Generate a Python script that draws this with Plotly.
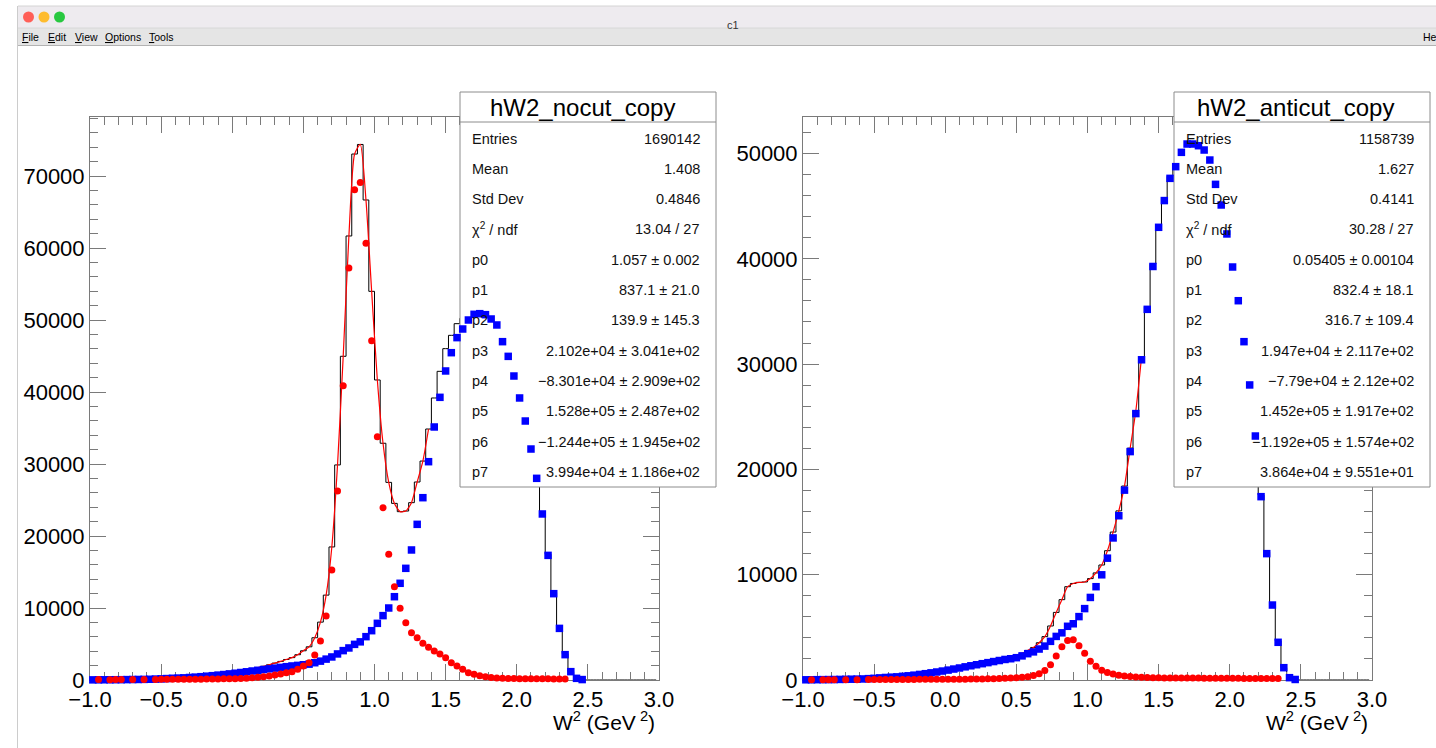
import plotly.graph_objects as go

W, H = 1436, 748
FONT = "Liberation Sans, Arial, Helvetica, sans-serif"
AX = "#7a7a7a"

# ---------------- binning ----------------
X_MIN, X_MAX, N_BINS = -1.0, 3.0, 100
FIT_MAX = 1.40
x_ticks_major, x_ticks_minor = 0.5, 0.1

# ---------------- hW2_nocut_copy ----------------
black_nocut = [20, 85, 30, 85, 110, 125, 55, 125, 75, 155,
               100, 210, 250, 290, 340, 370, 410, 460, 520, 580,
               660, 740, 830, 920, 1020, 1130, 1250, 1380, 1550, 1720,
               1910, 2110, 2350, 2580, 2850, 3110, 3510, 4060, 4610, 5870,
               8040, 11790, 18480, 29870, 44960, 61670, 73050, 74380, 66670, 53980,
               41670, 32880, 27450, 24530, 23380, 23470, 24630, 27500, 30410, 34860,
               39170, 42870, 46020, 47870, 49490, 50230, 51020, 51590, 51480, 51190,
               50490, 49600, 47240, 45170, 42420, 39360, 36150, 32250, 28180, 23220,
               17470, 12140, 7320, 3660, 1160, 230, 60, 0, 0, 0,
               0, 0, 0, 0, 0, 0, 0, 0, 0, 0]
blue_nocut = [20, 25, 30, 35, 40, 45, 55, 65, 75, 85,
              100, 130, 160, 200, 240, 270, 300, 350, 400, 460,
              530, 600, 680, 760, 850, 940, 1040, 1140, 1250, 1350,
              1450, 1550, 1650, 1750, 1850, 1950, 2030, 2120, 2200, 2400,
              2620, 2900, 3200, 3620, 4080, 4450, 4950, 5300, 6020, 6850,
              7870, 8940, 10000, 11570, 13430, 15510, 18060, 21620, 25320, 30320,
              35140, 39260, 42920, 45460, 47550, 48750, 50000, 50790, 50880, 50740,
              50140, 49310, 46990, 44950, 42220, 39170, 35970, 32080, 28010, 23060,
              17310, 11990, 7170, 3520, 1160, 230, 60, None, None, None,
              None, None, None, None, None, None, None, None, None, None]
red_nocut = [None, 60, None, 50, 70, 80, None, 60, None, 70,
             None, 80, 90, 90, 100, 100, 110, 110, 120, 120,
             130, 140, 150, 160, 170, 190, 210, 240, 300, 370,
             460, 560, 700, 830, 1000, 1160, 1480, 1940, 2410, 3470,
             5420, 8890, 15280, 26250, 40880, 57220, 68100, 69080, 60650, 47130,
             33800, 23940, 17450, 12960, 9950, 7960, 6570, 5880, 5090, 4540,
             4030, 3610, 3100, 2410, 1940, 1480, 1020, 800, 600, 450,
             350, 290, 250, 220, 200, 190, 180, 170, 170, 160,
             160, 150, 150, 140, None, None, None, None, None, None,
             None, None, None, None, None, None, None, None, None, None]

# ---------------- hW2_anticut_copy ----------------
black_anticut = [20, 55, 30, 55, 70, 75, 55, 95, 75, 115,
                 100, 170, 200, 240, 280, 320, 350, 400, 450, 510,
                 590, 660, 740, 820, 920, 1010, 1110, 1220, 1330, 1440,
                 1540, 1650, 1760, 1870, 1990, 2110, 2200, 2330, 2540, 2810,
                 3090, 3540, 4120, 5130, 6420, 7630, 8860, 9170, 9270, 9310,
                 9630, 10170, 10920, 12280, 14050, 16060, 18420, 22020, 25590, 30670,
                 35440, 39490, 43200, 45730, 47840, 48940, 50300, 51080, 51080, 50920,
                 50500, 49550, 47240, 45270, 42520, 39380, 36180, 32280, 28170, 23320,
                 17560, 12140, 7260, 3720, 1170, 220, 50, 0, 0, 0,
                 0, 0, 0, 0, 0, 0, 0, 0, 0, 0]
blue_anticut = [20, 25, 30, 35, 40, 45, 55, 65, 75, 85,
                100, 130, 160, 200, 240, 270, 300, 350, 400, 460,
                530, 600, 680, 760, 850, 940, 1040, 1140, 1250, 1350,
                1450, 1550, 1650, 1750, 1850, 1950, 2020, 2120, 2290, 2500,
                2670, 2940, 3220, 3670, 4140, 4480, 5100, 5340, 6020, 6780,
                7840, 8860, 9990, 11570, 13490, 15600, 18030, 21690, 25300, 30410,
                35200, 39270, 42990, 45530, 47640, 48750, 50110, 50900, 50900, 50740,
                50330, 49380, 47070, 45110, 42360, 39220, 36020, 32130, 28020, 23170,
                17410, 12000, 7120, 3580, 1170, 220, 50, None, None, None,
                None, None, None, None, None, None, None, None, None, None]
red_anticut = [None, 30, None, 20, 30, 30, None, 30, None, 30,
               None, 40, 40, 40, 40, 50, 50, 50, 50, 50,
               60, 60, 60, 60, 70, 70, 70, 80, 80, 90,
               90, 100, 110, 120, 140, 160, 180, 210, 250, 310,
               420, 600, 900, 1460, 2280, 3150, 3760, 3830, 3250, 2530,
               1790, 1310, 930, 710, 560, 460, 390, 330, 290, 260,
               240, 220, 210, 200, 200, 190, 190, 180, 180, 180,
               170, 170, 170, 160, 160, 160, 160, 150, 150, 150,
               150, 140, 140, 140, None, None, None, None, None, None,
               None, None, None, None, None, None, None, None, None, None]

# ---------------- stats boxes ----------------
stat_labels = ["Entries", "Mean", "Std Dev", "\u03c7<sup>2</sup> / ndf",
               "p0", "p1", "p2", "p3", "p4", "p5", "p6", "p7"]
stats_nocut = ["1690142", "1.408", "0.4846", "13.04 / 27",
               "1.057 \u00b1 0.002", "837.1 \u00b1 21.0", "139.9 \u00b1 145.3",
               "2.102e+04 \u00b1 3.041e+02", "\u22128.301e+04 \u00b1 2.909e+02",
               "1.528e+05 \u00b1 2.487e+02", "\u22121.244e+05 \u00b1 1.945e+02",
               "3.994e+04 \u00b1 1.186e+02"]
stats_anticut = ["1158739", "1.627", "0.4141", "30.28 / 27",
                 "0.05405 \u00b1 0.00104", "832.4 \u00b1 18.1", "316.7 \u00b1 109.4",
                 "1.947e+04 \u00b1 2.117e+02", "\u22127.79e+04 \u00b1 2.12e+02",
                 "1.452e+05 \u00b1 1.917e+02", "\u22121.192e+05 \u00b1 1.574e+02",
                 "3.864e+04 \u00b1 9.551e+01"]
menu_items = ["File", "Edit", "View", "Options", "Tools"]

bin_w = (X_MAX - X_MIN) / N_BINS
centers = [X_MIN + (i + 0.5) * bin_w for i in range(N_BINS)]
fit_idx = [i for i, c in enumerate(centers) if c <= FIT_MAX]


def fx(p):
    return p / W


def fy(p):
    return 1 - p / H


fig = go.Figure()

panels = [
    dict(name="hW2_nocut_copy", black=black_nocut, blue=blue_nocut, red=red_nocut,
         stats=stats_nocut, frame=(90, 659), ymax=78194, box=(460, 716),
         title_cx=582, lab_x=470, val_x=702, xtitle_r=657),
    dict(name="hW2_anticut_copy", black=black_anticut, blue=blue_anticut, red=red_anticut,
         stats=stats_anticut, frame=(803, 1372), ymax=53466, box=(1174, 1430),
         title_cx=1295, lab_x=1184, val_x=1416, xtitle_r=1370),
]

FRAME_TOP, FRAME_BOT = 117, 680
BOX_TOP, BOX_BOT, BOX_SEP = 92, 487, 122
row_y = [139, 169, 199, 229, 260, 290, 320, 351, 381, 411, 442, 472]

layout_axes = {}
annotations = []
for k, p in enumerate(panels):
    a_main, a_box, a_mark = 3 * k + 1, 3 * k + 2, 3 * k + 3

    def ax(n):
        return "" if n == 1 else str(n)

    xd = [fx(p["frame"][0]), fx(p["frame"][1])]
    yd = [fy(FRAME_BOT), fy(FRAME_TOP)]
    common = dict(showline=True, linecolor=AX, linewidth=1, mirror="ticks",
                  ticks="inside", tickcolor=AX, tickwidth=1, showgrid=False,
                  zeroline=False, fixedrange=True, automargin=False,
                  tickfont=dict(family=FONT, size=22, color="black"))
    layout_axes["xaxis" + ax(a_main)] = dict(
        domain=xd, range=[X_MIN, X_MAX], dtick=x_ticks_major, tick0=X_MIN,
        tickformat=".1f", ticklen=16, anchor="y" + ax(a_main),
        minor=dict(ticks="inside", dtick=x_ticks_minor, ticklen=8, tickcolor=AX,
                   tickwidth=1, showgrid=False), **common)
    layout_axes["yaxis" + ax(a_main)] = dict(
        domain=yd, range=[0, p["ymax"]], dtick=10000, tick0=0, tickformat="d",
        ticklen=16, anchor="x" + ax(a_main),
        minor=dict(ticks="inside", dtick=2000, ticklen=8, tickcolor=AX,
                   tickwidth=1, showgrid=False), **common)

    # stats box subplot (drawn above the histogram, below the markers)
    bx0, bx1 = p["box"]
    padx, pady = 2 / (bx1 - bx0), 2 / (BOX_BOT - BOX_TOP)
    layout_axes["xaxis" + ax(a_box)] = dict(
        domain=[fx(bx0 - 2), fx(bx1 + 2)], range=[-padx, 1 + padx], visible=False,
        fixedrange=True, automargin=False, anchor="y" + ax(a_box))
    layout_axes["yaxis" + ax(a_box)] = dict(
        domain=[fy(BOX_BOT + 2), fy(BOX_TOP - 2)], range=[-pady, 1 + pady],
        visible=False, fixedrange=True, automargin=False, anchor="x" + ax(a_box))

    # marker overlay subplot (same geometry as main)
    layout_axes["xaxis" + ax(a_mark)] = dict(
        domain=xd, range=[X_MIN, X_MAX], visible=False, fixedrange=True,
        automargin=False, anchor="y" + ax(a_mark))
    layout_axes["yaxis" + ax(a_mark)] = dict(
        domain=yd, range=[0, p["ymax"]], visible=False, fixedrange=True,
        automargin=False, anchor="x" + ax(a_mark))

    # main: histogram + fit
    fig.add_trace(go.Scatter(x=centers, y=p["black"], mode="lines", line_shape="hvh",
                             line=dict(color="black", width=1),
                             xaxis="x" + ax(a_main), yaxis="y" + ax(a_main)))
    fig.add_trace(go.Scatter(x=[centers[i] for i in fit_idx],
                             y=[p["black"][i] for i in fit_idx], mode="lines",
                             line=dict(color="#ff0000", width=1.2, shape="spline",
                                       smoothing=0.6),
                             xaxis="x" + ax(a_main), yaxis="y" + ax(a_main)))
    # box
    sep = (BOX_BOT - BOX_SEP) / (BOX_BOT - BOX_TOP)
    fig.add_trace(go.Scatter(x=[0, 1, 1, 0, 0], y=[0, 0, 1, 1, 0], mode="lines",
                             fill="toself", fillcolor="white",
                             line=dict(color="#8c8c8c", width=1),
                             xaxis="x" + ax(a_box), yaxis="y" + ax(a_box)))
    fig.add_trace(go.Scatter(x=[0, 1], y=[sep, sep], mode="lines",
                             line=dict(color="#8c8c8c", width=1),
                             xaxis="x" + ax(a_box), yaxis="y" + ax(a_box)))
    # markers
    fig.add_trace(go.Scatter(x=centers, y=p["blue"], mode="markers", cliponaxis=False,
                             marker=dict(symbol="square", size=7.5, color="#0000ff",
                                         line=dict(width=0)),
                             xaxis="x" + ax(a_mark), yaxis="y" + ax(a_mark)))
    fig.add_trace(go.Scatter(x=centers, y=p["red"], mode="markers", cliponaxis=False,
                             marker=dict(symbol="circle", size=7, color="#ff0000",
                                         line=dict(width=0)),
                             xaxis="x" + ax(a_mark), yaxis="y" + ax(a_mark)))

    # stats text
    annotations.append(dict(text=p["name"], x=fx(p["title_cx"]), y=fy(107),
                            xanchor="center", yanchor="middle",
                            font=dict(family=FONT, size=24, color="black")))
    for lab, val, yy in zip(stat_labels, p["stats"], row_y):
        annotations.append(dict(text=lab, x=fx(p["lab_x"]), y=fy(yy), xanchor="left",
                                yanchor="middle",
                                font=dict(family=FONT, size=14.5, color="#111")))
        annotations.append(dict(text=val, x=fx(p["val_x"]), y=fy(yy), xanchor="right",
                                yanchor="middle",
                                font=dict(family=FONT, size=14.5, color="#111")))
    annotations.append(dict(text="W<sup>2</sup> (GeV<sup> 2</sup>)", x=fx(p["xtitle_r"]),
                            y=fy(721), xanchor="right", yanchor="middle",
                            font=dict(family=FONT, size=21, color="black")))

for a in annotations:
    a.update(xref="paper", yref="paper", showarrow=False)

# ---------------- window chrome ----------------
shapes = []
shapes.append(dict(type="rect", xref="paper", yref="paper", x0=fx(18), x1=1,
                   y0=fy(28), y1=fy(6), fillcolor="#eeebef", line=dict(width=0)))
shapes.append(dict(type="rect", xref="paper", yref="paper", x0=fx(18), x1=1,
                   y0=fy(45), y1=fy(28), fillcolor="#e5e5e5", line=dict(width=0)))
shapes.append(dict(type="line", xref="paper", yref="paper", x0=fx(18), x1=1,
                   y0=fy(45.5), y1=fy(45.5), line=dict(color="#b3b3b3", width=1)))
shapes.append(dict(type="line", xref="paper", yref="paper", x0=fx(18), x1=1,
                   y0=fy(28), y1=fy(28), line=dict(color="#d8d8d8", width=1)))
shapes.append(dict(type="line", xref="paper", yref="paper", x0=fx(18), x1=1,
                   y0=fy(6), y1=fy(6), line=dict(color="#d4d4d4", width=1)))
shapes.append(dict(type="line", xref="paper", yref="paper", x0=fx(17.5), x1=fx(17.5),
                   y0=0, y1=fy(6), line=dict(color="#cccccc", width=1)))
for cx, col in [(28.5, "#ff5f57"), (44, "#febc2e"), (59.5, "#28c840")]:
    shapes.append(dict(type="circle", xref="paper", yref="paper", x0=fx(cx - 5.5),
                       x1=fx(cx + 5.5), y0=fy(17 + 5.5), y1=fy(17 - 5.5),
                       fillcolor=col, line=dict(width=0)))

annotations.append(dict(text="c1", x=fx(733), y=fy(17), xref="paper", yref="paper",
                        showarrow=False, font=dict(family=FONT, size=11, color="#333")))
menu_x = [20, 46, 73, 103, 147]
for item, mx in zip(menu_items, menu_x):
    annotations.append(dict(
        text="<span style='text-decoration:underline'>" + item[0] + "</span>" + item[1:],
        x=fx(mx), y=fy(37), xref="paper", yref="paper", xanchor="left",
        yanchor="middle", showarrow=False,
        font=dict(family=FONT, size=10.5, color="black")))
annotations.append(dict(text="He", x=fx(1421), y=fy(37), xref="paper", yref="paper",
                        xanchor="left", yanchor="middle", showarrow=False,
                        font=dict(family=FONT, size=10.5, color="black")))

fig.update_layout(template="none", width=W, height=H, autosize=False,
                  margin=dict(l=0, r=0, t=0, b=0, pad=0, autoexpand=False),
                  paper_bgcolor="white", plot_bgcolor="rgba(0,0,0,0)",
                  showlegend=False, hovermode=False,
                  shapes=shapes, annotations=annotations, **layout_axes)

fig.write_html("out.html", config={"displayModeBar": False, "staticPlot": True})
